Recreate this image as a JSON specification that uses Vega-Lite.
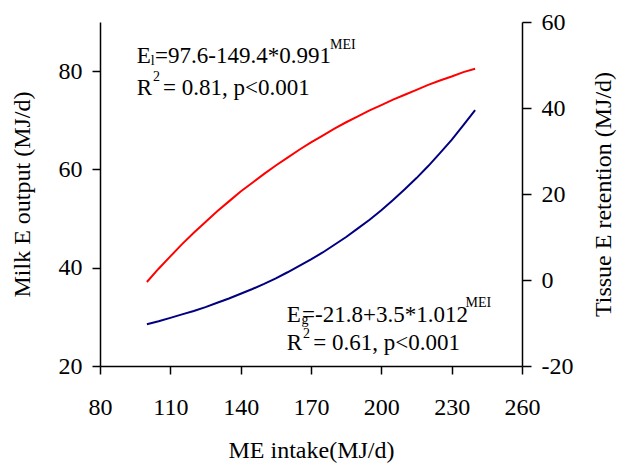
{
  "$schema": "https://vega.github.io/schema/vega-lite/v6.json",
  "width": 422,
  "height": 344,
  "autosize": {"type": "none"},
  "padding": {"left": 100, "top": 22, "right": 97, "bottom": 97},
  "background": "white",
  "config": {
    "view": {"stroke": null},
    "font": "Liberation Serif",
    "axis": {
      "grid": false,
      "domainColor": "black",
      "tickColor": "black",
      "labelColor": "black",
      "titleColor": "black",
      "labelFont": "Liberation Serif",
      "titleFont": "Liberation Serif",
      "labelFontSize": 24,
      "titleFontSize": 24,
      "titleFontWeight": "normal",
      "domainWidth": 1.5,
      "tickWidth": 1.5
    }
  },
  "datasets": {
    "milk": [
      {"mei": 100, "milk": 37.1}, {"mei": 105, "milk": 39.8}, {"mei": 110, "milk": 42.3},
      {"mei": 115, "milk": 44.8}, {"mei": 120, "milk": 47.1}, {"mei": 125, "milk": 49.3},
      {"mei": 130, "milk": 51.5}, {"mei": 135, "milk": 53.5}, {"mei": 140, "milk": 55.5},
      {"mei": 145, "milk": 57.3}, {"mei": 150, "milk": 59.1}, {"mei": 155, "milk": 60.8},
      {"mei": 160, "milk": 62.4}, {"mei": 165, "milk": 64.0}, {"mei": 170, "milk": 65.5},
      {"mei": 175, "milk": 66.9}, {"mei": 180, "milk": 68.3}, {"mei": 185, "milk": 69.6},
      {"mei": 190, "milk": 70.8}, {"mei": 195, "milk": 72.0}, {"mei": 200, "milk": 73.1},
      {"mei": 205, "milk": 74.2}, {"mei": 210, "milk": 75.2}, {"mei": 215, "milk": 76.2},
      {"mei": 220, "milk": 77.2}, {"mei": 225, "milk": 78.1}, {"mei": 230, "milk": 78.9},
      {"mei": 235, "milk": 79.8}, {"mei": 240, "milk": 80.5}
    ],
    "tissue": [
      {"mei": 100, "tissue": -10.3}, {"mei": 105, "tissue": -9.6}, {"mei": 110, "tissue": -8.8},
      {"mei": 115, "tissue": -8.0}, {"mei": 120, "tissue": -7.2}, {"mei": 125, "tissue": -6.3},
      {"mei": 130, "tissue": -5.3}, {"mei": 135, "tissue": -4.3}, {"mei": 140, "tissue": -3.2},
      {"mei": 145, "tissue": -2.1}, {"mei": 150, "tissue": -0.9}, {"mei": 155, "tissue": 0.4},
      {"mei": 160, "tissue": 1.8}, {"mei": 165, "tissue": 3.3}, {"mei": 170, "tissue": 4.8},
      {"mei": 175, "tissue": 6.4}, {"mei": 180, "tissue": 8.2}, {"mei": 185, "tissue": 10.0},
      {"mei": 190, "tissue": 12.0}, {"mei": 195, "tissue": 14.0}, {"mei": 200, "tissue": 16.2},
      {"mei": 205, "tissue": 18.6}, {"mei": 210, "tissue": 21.1}, {"mei": 215, "tissue": 23.7},
      {"mei": 220, "tissue": 26.5}, {"mei": 225, "tissue": 29.5}, {"mei": 230, "tissue": 32.6},
      {"mei": 235, "tissue": 36.0}, {"mei": 240, "tissue": 39.5}
    ],
    "ann": [
      {"mei": 95.65, "milk": 81.66, "t": "E"},
      {"mei": 103.46, "milk": 81.66, "t": "=97.6-149.4*0.991"},
      {"mei": 95.65, "milk": 75.15, "t": "R"},
      {"mei": 106.88, "milk": 75.15, "t": "= 0.81, p<0.001"},
      {"mei": 159.65, "milk": 29.01, "t": "E"},
      {"mei": 166.2, "milk": 29.01, "t": "=-21.8+3.5*1.012"},
      {"mei": 159.65, "milk": 23.26, "t": "R"},
      {"mei": 171.0, "milk": 23.26, "t": "= 0.61, p<0.001"}
    ],
    "annsmall": [
      {"mei": 101.6, "milk": 81.25, "t": "l"},
      {"mei": 178.1, "milk": 84.41, "t": "MEI"},
      {"mei": 102.61, "milk": 78.0, "t": "2"},
      {"mei": 165.9, "milk": 28.5, "t": "g"},
      {"mei": 235.9, "milk": 32.07, "t": "MEI"},
      {"mei": 166.6, "milk": 25.7, "t": "2"}
    ]
  },
  "layer": [
    {
      "layer": [
        {
          "data": {"name": "milk"},
          "mark": {"type": "line", "color": "#ff0000", "strokeWidth": 2},
          "encoding": {
            "x": {
              "field": "mei", "type": "quantitative",
              "scale": {"domain": [80, 260], "nice": false, "zero": false},
              "axis": {"title": "ME intake(MJ/d)", "values": [80, 110, 140, 170, 200, 230, 260], "tickSize": 8, "labelPadding": 21, "titlePadding": 19, "labelFlush": false}
            },
            "y": {
              "field": "milk", "type": "quantitative",
              "scale": {"domain": [20, 90], "nice": false, "zero": false},
              "axis": {"title": "Milk E output (MJ/d)", "orient": "left", "values": [20, 40, 60, 80], "tickSize": 8, "labelPadding": 10, "titlePadding": 24}
            }
          }
        },
        {
          "data": {"name": "ann"},
          "mark": {"type": "text", "align": "left", "baseline": "alphabetic", "fontSize": 23, "color": "black", "font": "Liberation Serif"},
          "encoding": {
            "x": {"field": "mei", "type": "quantitative"},
            "y": {"field": "milk", "type": "quantitative"},
            "text": {"field": "t"}
          }
        },
        {
          "data": {"name": "annsmall"},
          "mark": {"type": "text", "align": "left", "baseline": "alphabetic", "fontSize": 14, "color": "black", "font": "Liberation Serif"},
          "encoding": {
            "x": {"field": "mei", "type": "quantitative"},
            "y": {"field": "milk", "type": "quantitative"},
            "text": {"field": "t"}
          }
        }
      ]
    },
    {
      "data": {"name": "tissue"},
      "mark": {"type": "line", "color": "#000080", "strokeWidth": 2},
      "encoding": {
        "x": {"field": "mei", "type": "quantitative"},
        "y": {
          "field": "tissue", "type": "quantitative",
          "scale": {"domain": [-20, 60], "nice": false, "zero": false},
          "axis": {"title": "Tissue E retention (MJ/d)", "orient": "right", "values": [-20, 0, 20, 40, 60], "labelExpr": "'' + datum.value", "tickSize": 9, "labelPadding": 10, "titlePadding": 19, "titleAngle": 270, "titleBaseline": "top"}
        }
      }
    }
  ],
  "resolve": {"scale": {"y": "independent"}}
}
